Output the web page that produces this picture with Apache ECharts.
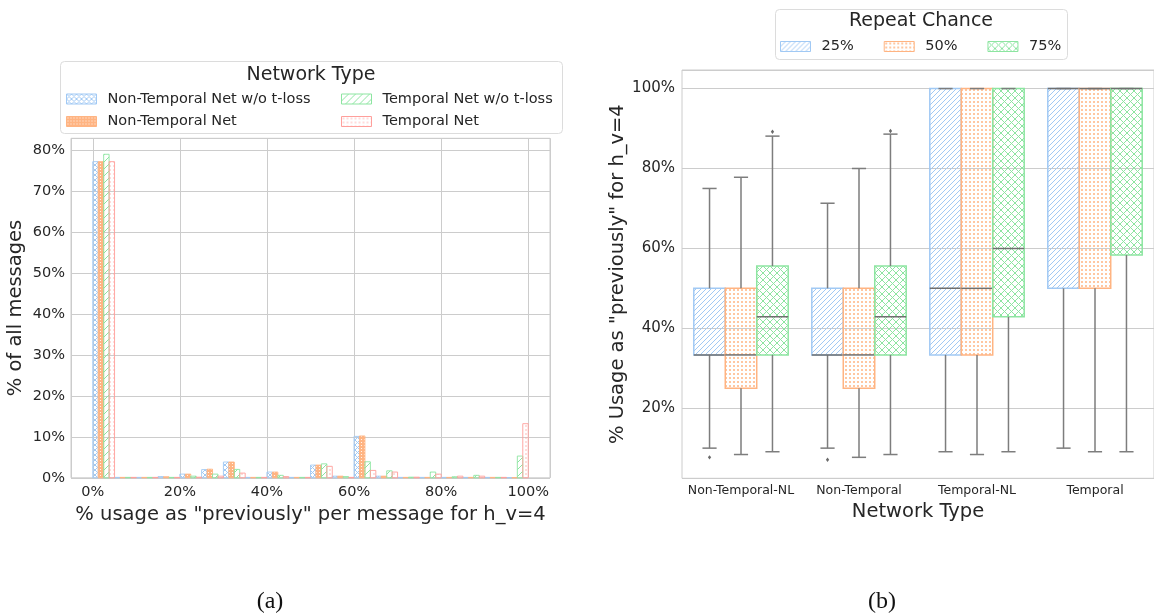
<!DOCTYPE html>
<html><head><meta charset="utf-8">
<script src="https://cdn.jsdelivr.net/npm/echarts@6/dist/echarts.min.js"></script>
<style>html,body{margin:0;padding:0;background:#fff}#c{width:1154px;height:615px}</style>
</head><body><div id="c"></div>
<script>
// ---------- (a) histogram data ----------
const binStarts = [0,5,10,15,20,25,30,35,40,45,50,55,60,65,70,75,80,85,90,95];
const binWidth = 5;
const histNames = ['Non-Temporal Net w/o t-loss','Non-Temporal Net','Temporal Net w/o t-loss','Temporal Net'];
const ntNoLoss = [77.1,0.1,0.1,0.3,0.9,2.0,3.85,0.1,1.4,0.1,3.1,0.4,10.1,0.4,0.1,0.1,0.1,0.1,0.1,0.05];
const ntNet    = [77.1,0.1,0.1,0.25,0.9,2.1,3.85,0.1,1.4,0.1,3.1,0.4,10.2,0.4,0.1,0.1,0.1,0.1,0.1,0.05];
const tNoLoss  = [78.9,0.1,0.1,0.1,0.4,0.9,2.05,0.1,0.6,0.1,3.4,0.3,3.9,1.7,0.15,1.4,0.25,0.6,0.1,5.3];
const tNet     = [77.1,0.1,0.1,0.1,0.15,0.4,1.15,0.1,0.3,0.1,2.8,0.1,1.8,1.4,0.15,0.9,0.4,0.4,0.1,13.2];

// ---------- (b) boxplot data ----------
const boxCategories = ['Non-Temporal-NL','Non-Temporal','Temporal-NL','Temporal'];
const repeatNames = ['25%','50%','75%'];
// [category, low whisker, Q1, median, Q3, high whisker]
const box25 = [[0,10.0,33.33,33.33,50,75.0],[1,10.0,33.33,33.33,50,71.3],[2,9.1,33.33,50,100,100],[3,10.0,50,100,100,100]];
const box50 = [[0,8.4,25,33.33,50,77.8],[1,7.7,25,33.33,50,80.0],[2,8.4,33.33,50,100,100],[3,9.1,50,100,100,100]];
const box75 = [[0,9.1,33.33,42.86,55.56,88.1],[1,8.4,33.33,42.86,55.56,88.6],[2,9.1,42.86,60,100,100],[3,9.1,58.33,100,100,100]];
const out25 = [[0,7.7],[1,7.1]];
const out50 = [];
const out75 = [[0,89.2],[1,89.4]];

// ---------- styling ----------
const C_BLUE='#a1c9f4', C_ORANGE='#ffb482', C_GREEN='#8de5a1', C_RED='#ff9f9b';
const TXT='#262626', GRIDC='#cccccc', WHISK='#7d7d7d';
const FONT='DejaVu Sans';

function pat(S,draw,bg){const cv=document.createElement('canvas');cv.width=S;cv.height=S;const g=cv.getContext('2d');if(bg){g.fillStyle=bg;g.fillRect(0,0,S,S);}draw(g,S);return {image:cv,repeat:'repeat'};}
function diag(color,sp,lw,bg){const S=sp*4;return pat(S,(g)=>{g.strokeStyle=color;g.lineWidth=lw;g.beginPath();for(let o=-S;o<=S;o+=sp){g.moveTo(o,S);g.lineTo(o+S,0);}g.stroke();},bg);}
function cross(color,sp,lw,bg){const S=sp*4;return pat(S,(g)=>{g.strokeStyle=color;g.lineWidth=lw;g.beginPath();for(let o=-S;o<=S;o+=sp){g.moveTo(o,S);g.lineTo(o+S,0);g.moveTo(o,0);g.lineTo(o+S,S);}g.stroke();},bg);}
function dots(color,sp,r,bg){const S=sp*4;return pat(S,(g)=>{g.fillStyle=color;for(let i=0;i<4;i++)for(let j=0;j<4;j++){g.beginPath();g.arc(i*sp+sp/2,j*sp+sp/2,r,0,Math.PI*2);g.fill();}},bg);}

const histPats=[cross(C_BLUE,5,1,null), dots('#ffffff',3,0.6,C_ORANGE), diag(C_GREEN,7,1,null), dots(C_RED,4,0.7,null)];
const histCols=[C_BLUE,C_ORANGE,C_GREEN,C_RED];
const histData=[ntNoLoss,ntNet,tNoLoss,tNet];
const boxPats=[diag(C_BLUE,5,1,null), dots(C_ORANGE,4,1.0,null), cross(C_GREEN,7,1,null)];
const boxCols=[C_BLUE,C_ORANGE,C_GREEN];
const boxData=[box25,box50,box75];
const outData=[out25,out50,out75];

function histRender(k){
  return function(params,api){
    const s=api.value(0), v=api.value(1), w=binWidth/4;
    const a=api.coord([s+k*w,v]), b=api.coord([s+(k+1)*w,0]);
    return {type:'rect',shape:{x:a[0],y:a[1],width:b[0]-a[0],height:b[1]-a[1]},
      style:{fill:histPats[k],stroke:histCols[k],lineWidth:0.9}};
  };
}
function hueX(api,c,h){
  const band=api.size([1,0])[0], bw=band*0.8/3;
  return {cx: api.coord([c,0])[0]-band*0.4+bw*(h+0.5), bw: bw};
}
function boxRender(h){
  return function(params,api){
    const c=api.value(0);
    const p=hueX(api,c,h), cx=p.cx, bw=p.bw, cap=bw*0.45;
    const y=(i)=>api.coord([c,api.value(i)])[1];
    const lo=y(1), q1=y(2), md=y(3), q3=y(4), hi=y(5);
    const ls={stroke:WHISK,lineWidth:1.5,fill:null};
    return {type:'group',children:[
      {type:'rect',shape:{x:cx-bw/2,y:q3,width:bw,height:q1-q3},style:{fill:boxPats[h],stroke:boxCols[h],lineWidth:1.5}},
      {type:'line',shape:{x1:cx,y1:q1,x2:cx,y2:lo},style:ls},
      {type:'line',shape:{x1:cx,y1:q3,x2:cx,y2:hi},style:ls},
      {type:'line',shape:{x1:cx-cap/2,y1:lo,x2:cx+cap/2,y2:lo},style:ls},
      {type:'line',shape:{x1:cx-cap/2,y1:hi,x2:cx+cap/2,y2:hi},style:ls},
      {type:'line',shape:{x1:cx-bw/2,y1:md,x2:cx+bw/2,y2:md},style:{stroke:'#6f6f6f',lineWidth:1.5,fill:null}}
    ]};
  };
}
function outRender(h){
  return function(params,api){
    const c=api.value(0);
    const p=hueX(api,c,h);
    const yy=api.coord([c,api.value(1)])[1], cx=p.cx, r=2.2;
    return {type:'polygon',shape:{points:[[cx,yy-r],[cx+r*0.75,yy],[cx,yy+r],[cx-r*0.75,yy]]},style:{fill:'#6a6a6a'}};
  };
}

const series=[];
histNames.forEach((n,k)=>{
  series.push({type:'custom',name:n,xAxisIndex:0,yAxisIndex:0,renderItem:histRender(k),
    itemStyle:{color:histCols[k]},encode:{x:0,y:1},
    data:binStarts.map((s,i)=>[s,histData[k][i]])});
});
repeatNames.forEach((n,h)=>{
  series.push({type:'custom',name:n,xAxisIndex:1,yAxisIndex:1,renderItem:boxRender(h),
    itemStyle:{color:boxCols[h]},encode:{x:0,y:[1,2,3,4,5]},data:boxData[h]});
  series.push({type:'custom',name:n+' outliers',xAxisIndex:1,yAxisIndex:1,renderItem:outRender(h),
    encode:{x:0,y:1},data:outData[h]});
});

function pctFmt(step){return function(v){const r=Math.round(v);return (Math.abs(v-r)<1e-6 && r%step===0)? r+'%':'';};}
const legendText={color:TXT,fontSize:14.5,fontFamily:FONT,lineHeight:16,padding:[0,0,0,6]};
function legItem(name,k,pats,cols){return {name:name,icon:'rect',itemStyle:{color:pats[k],borderColor:cols[k],borderWidth:1}};}

const chart=echarts.init(document.getElementById('c'),null,{renderer:'canvas'});
chart.setOption({
  animation:false,
  backgroundColor:'#ffffff',
  textStyle:{fontFamily:FONT,color:TXT},
  grid:[
    {left:71,top:138.3,width:479,height:339.5,show:true,borderColor:GRIDC,borderWidth:1,backgroundColor:'transparent'},
    {left:682,top:70,width:479,height:408.3,show:true,borderColor:GRIDC,borderWidth:1,backgroundColor:'transparent'}
  ],
  xAxis:[
    {type:'value',gridIndex:0,min:-5,max:105,splitNumber:5,
      name:'% usage as "previously" per message for h_v=4',nameLocation:'middle',nameGap:21,
      nameTextStyle:{fontSize:19.5,color:TXT,fontFamily:FONT},
      axisLine:{show:false},axisTick:{show:false},
      axisLabel:{formatter:pctFmt(20),fontSize:14.5,color:TXT,margin:7,showMinLabel:false,showMaxLabel:false},
      splitLine:{show:true,lineStyle:{color:GRIDC,width:1}}},
    {type:'category',gridIndex:1,data:boxCategories,boundaryGap:true,
      name:'Network Type',nameLocation:'middle',nameGap:21,
      nameTextStyle:{fontSize:19.5,color:TXT,fontFamily:FONT},
      axisLine:{show:false},axisTick:{show:false},
      axisLabel:{fontSize:12.5,color:TXT,margin:6,interval:0},
      splitLine:{show:false}}
  ],
  yAxis:[
    {type:'value',gridIndex:0,min:0,max:82.8,interval:10,
      name:'% of all messages',nameLocation:'middle',nameGap:45,
      nameTextStyle:{fontSize:19.5,color:TXT,fontFamily:FONT},
      axisLine:{show:false},axisTick:{show:false},
      axisLabel:{formatter:pctFmt(10),fontSize:14.5,color:TXT,margin:6,showMaxLabel:false},
      splitLine:{show:true,lineStyle:{color:GRIDC,width:1}}},
    {type:'value',gridIndex:1,min:2.45,max:104.65,splitNumber:5,
      name:'% Usage as "previously" for h_v=4',nameLocation:'middle',nameGap:54,
      nameTextStyle:{fontSize:19.5,color:TXT,fontFamily:FONT},
      axisLine:{show:false},axisTick:{show:false},
      axisLabel:{formatter:pctFmt(20),fontSize:15,color:TXT,margin:7,showMinLabel:false,showMaxLabel:false},
      splitLine:{show:true,lineStyle:{color:GRIDC,width:1}}}
  ],
  legend:[
    {orient:'vertical',left:66,top:91,padding:0,itemWidth:30,itemHeight:10,itemGap:6.5,selectedMode:false,textStyle:legendText,
      data:[legItem(histNames[0],0,histPats,histCols),legItem(histNames[1],1,histPats,histCols)]},
    {orient:'vertical',left:341,top:91,padding:0,itemWidth:30,itemHeight:10,itemGap:6.5,selectedMode:false,textStyle:legendText,
      data:[legItem(histNames[2],2,histPats,histCols),legItem(histNames[3],3,histPats,histCols)]},
    {orient:'horizontal',left:780,top:38.5,padding:0,itemWidth:30,itemHeight:10,itemGap:30,selectedMode:false,textStyle:legendText,
      data:repeatNames.map((n,h)=>legItem(n,h,boxPats,boxCols))}
  ],
  graphic:[
    {type:'rect',left:60,top:61,shape:{width:502,height:72,r:4},style:{fill:'#fff',stroke:'#dcdcdc',lineWidth:1},z:-1},
    {type:'text',x:311,y:75,style:{text:'Network Type',fontSize:19,fontFamily:FONT,fill:TXT,align:'center',verticalAlign:'middle'}},
    {type:'rect',left:775,top:9,shape:{width:292,height:50,r:4},style:{fill:'#fff',stroke:'#dcdcdc',lineWidth:1},z:-1},
    {type:'text',x:921,y:21.5,style:{text:'Repeat Chance',fontSize:19,fontFamily:FONT,fill:TXT,align:'center',verticalAlign:'middle'}},
    {type:'text',x:270,y:602,style:{text:'(a)',fontSize:24,fontFamily:'Liberation Serif',fill:'#111',align:'center',verticalAlign:'middle'}},
    {type:'text',x:882,y:602,style:{text:'(b)',fontSize:24,fontFamily:'Liberation Serif',fill:'#111',align:'center',verticalAlign:'middle'}}
  ],
  series:series
});
</script></body></html>
